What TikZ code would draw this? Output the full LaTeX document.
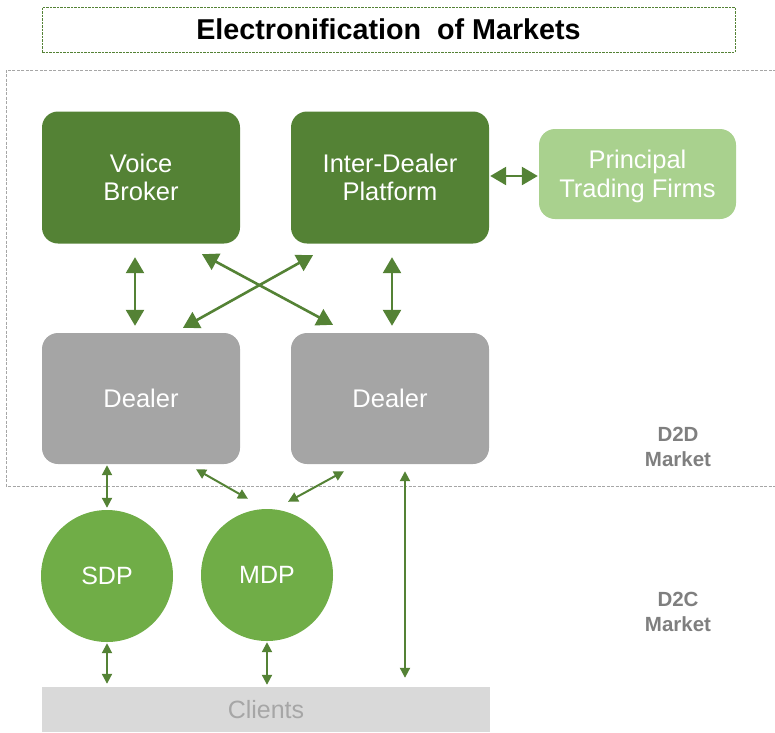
\documentclass[tikz,border=0pt]{standalone}
\usepackage{fontspec}
\setmainfont{Liberation Sans}
\usetikzlibrary{arrows.meta,calc}
\definecolor{dkgreen}{HTML}{548235}
\definecolor{mdgreen}{HTML}{70AD47}
\definecolor{ltgreen}{HTML}{A9D18E}
\definecolor{dlgray}{HTML}{A5A5A5}
\definecolor{clgray}{HTML}{D9D9D9}
\definecolor{txgray}{HTML}{7F7F7F}
\definecolor{bxgray}{HTML}{A6A6A6}
\tikzset{
  box/.style={rectangle, rounded corners=16pt, minimum width=198pt, minimum height=132pt,
    text=white, font=\fontsize{25.5}{28.5}\selectfont, align=center, inner sep=0pt},
  darkbox/.style={box, fill=dkgreen},
  dealerbox/.style={box, fill=dlgray, minimum height=131pt},
  lightbox/.style={rectangle, rounded corners=16pt, fill=ltgreen, minimum width=197pt, minimum height=90pt, inner sep=0pt},
  lighttext/.style={text=white, font=\fontsize{25.5}{28.5}\selectfont, align=center, inner sep=0pt},
  platform/.style={circle, fill=mdgreen, minimum size=132pt, inner sep=0pt,
    text=white, font=\fontsize{25}{28}\selectfont},
  bigarrow/.style={draw=dkgreen, line width=2.6pt, {Triangle[length=16pt,width=18pt]}-{Triangle[length=16pt,width=18pt]}},
  smallarrow/.style={draw=dkgreen, line width=2pt, {Triangle[length=10pt,width=10pt]}-{Triangle[length=10pt,width=10pt]}},
  mktlabel/.style={text=txgray, font=\bfseries\fontsize{20.5}{24.5}\selectfont, align=center},
}
\begin{document}
\begin{tikzpicture}[x=1pt,y=-1pt]
\useasboundingbox (0,0) rectangle (775,732);
% title
\node[draw=dkgreen, dashed, dash pattern=on 2.5pt off 1pt, line width=0.8pt, minimum width=693pt, minimum height=45pt,
  inner sep=0pt, font=\bfseries\fontsize{28.7}{32}\selectfont] (title) at (388.5,29.5)
  {Electronification\ \ of Markets};
% D2D market region
\draw[bxgray, dashed, dash pattern=on 3pt off 1.5pt, line width=0.8pt] (776,70) -- (6,70) -- (6,486) -- (776,486);
% nodes
\node[darkbox] (vb) at (141,177.5) {Voice\\Broker};
\node[darkbox] (idp) at (390,177.5) {Inter-Dealer\\Platform};
\node[lightbox, label={[lighttext, yshift=-2.5pt]center:Principal\\Trading Firms}] (ptf) at (637.5,174) {};
\node[dealerbox] (d1) at (141,398.5) {Dealer};
\node[dealerbox] (d2) at (390,398.5) {Dealer};
\node[platform] (sdp) at (107,576) {SDP};
\node[platform] (mdp) at (267,575) {MDP};
\node[rectangle, fill=clgray, minimum width=448pt, minimum height=45pt, inner sep=0pt,
  text=bxgray, font=\fontsize{25}{28}\selectfont] (cl) at (266,709.5) {Clients};
\node[mktlabel] (d2d) at (678,447) {D2D\\Market};
\node[mktlabel] (d2c) at (678,612) {D2C\\Market};
% connectors
\draw[bigarrow] ($(vb.south)+(-6,13.5)$) -- ($(d1.north)+(-6,-7)$);
\draw[bigarrow] ($(idp.south)+(2,13.5)$) -- ($(d2.north)+(2,-7)$);
\draw[bigarrow] ($(vb.south)+(61,10.5)$) -- ($(d2.north)+(-57,-8)$);
\draw[bigarrow] ($(idp.south)+(-77,11.5)$) -- ($(d1.north)+(42,-5)$);
\draw[bigarrow] ($(idp.east)+(1,-1.5)$) -- ($(idp.east -| ptf.west)+(-1,-1.5)$);
\draw[smallarrow] ($(d1.south)+(-34,1)$) -- ($(sdp.north)+(0,-2)$);
\draw[smallarrow] ($(d1.south)+(55,5)$) -- ($(mdp.north)+(-19,-10)$);
\draw[smallarrow] ($(d2.south)+(-46,7)$) -- ($(mdp.north)+(21,-7)$);
\draw[smallarrow] ($(d2.south)+(15,7)$) -- ($(d2.south |- cl.north)+(15,-9)$);
\draw[smallarrow] ($(sdp.south)+(0,1)$) -- ($(cl.north -| sdp.south)+(0,-3)$);
\draw[smallarrow] ($(mdp.south)+(0,1)$) -- ($(cl.north -| mdp.south)+(0,-2)$);
\end{tikzpicture}
\end{document}
